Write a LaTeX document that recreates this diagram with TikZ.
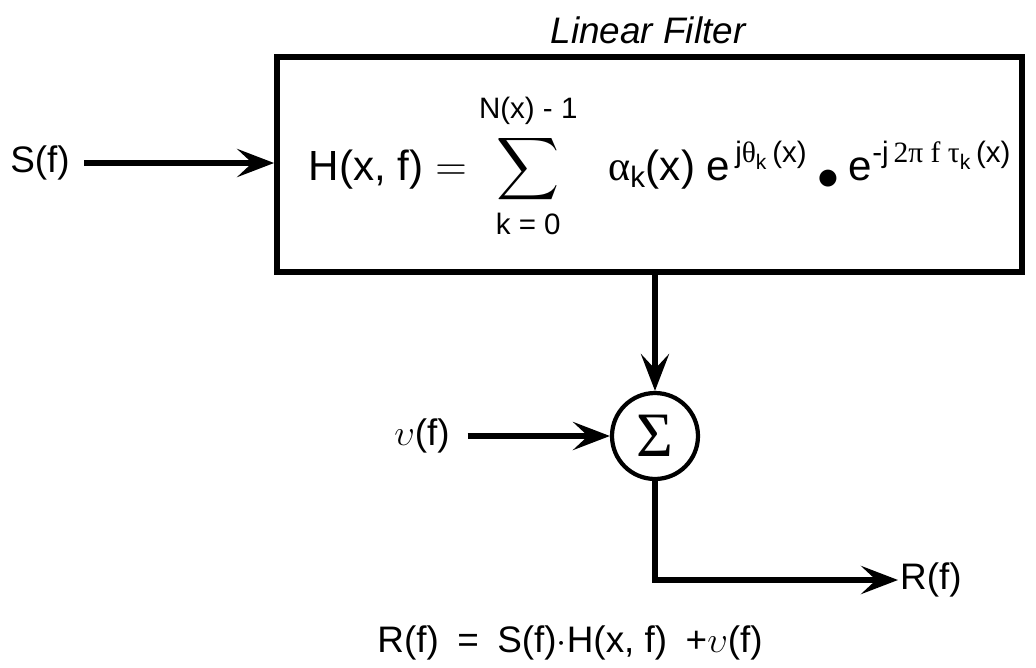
\documentclass[tikz,border=0pt]{standalone}
\usepackage{amsmath}
\usepackage{fontspec}
\setmainfont{Liberation Sans}
\newfontfamily\gr{Liberation Serif}
\usetikzlibrary{arrows.meta,positioning}

\begin{document}
\begin{tikzpicture}[x=0.02cm,y=-0.02cm,font=\fontsize{21}{25}\selectfont,
    lbl/.style={inner sep=1pt},
    flow/.style={line width=3pt,-{Stealth[length=21pt,width=16pt,inset=8.5pt]}},
    filterbox/.style={draw,line width=3.4pt,minimum width=14.9cm,minimum height=4.3cm,inner sep=0pt},
    sumnode/.style={draw,circle,line width=2.4pt,minimum size=1.72cm,inner sep=0pt}]
  \useasboundingbox (0,0) rectangle (1036,667);
  \node[filterbox] (filt) at (649.5,164.5) {};
  \node[font=\fontsize{21}{25}\selectfont\itshape] (title) at (648,30) {Linear Filter};
  \node[lbl] (sig) at (40,163) {S(f)};
  \node[lbl,font=\fontsize{24}{28}\selectfont] (hxf) at (660,166) {$\text{H(x, f)} = \displaystyle\sum_{\text{\raisebox{-2pt}{k = 0}}}^{\text{\raisebox{4pt}{N(x) - 1}}}\ \ \text{\gr α}_{\text{k}}\text{(x)}\ \text{e}^{\,\text{j\gr θ}_{\text{k}}\text{\,(x)}}\mathbin{\raisebox{-0.4ex}{$\bullet$}}\text{e}^{\text{-j\,\gr 2π f τ}_{\text{k}}\text{\,(x)}}$};
  \node[sumnode] (sum) at (655,436) {\fontsize{36}{38}\selectfont\gr Σ};
  \node[lbl] (noise) at (422,436) {$\upsilon$(f)};
  \node[lbl,anchor=west] (out) at (898,580) {R(f)};
  \node[lbl] (eq) at (570,643) {R(f)\enspace=\enspace S(f)$\cdot$H(x, f)\enspace+$\upsilon$(f)};
  \draw[flow,shorten <=7pt] (sig) -- (sig -| filt.west);
  \draw[flow] (filt.south -| sum) -- (sum);
  \draw[flow,shorten <=9pt] (noise) -- (sum);
  \draw[flow] (sum) |- (out);
\end{tikzpicture}
\end{document}
